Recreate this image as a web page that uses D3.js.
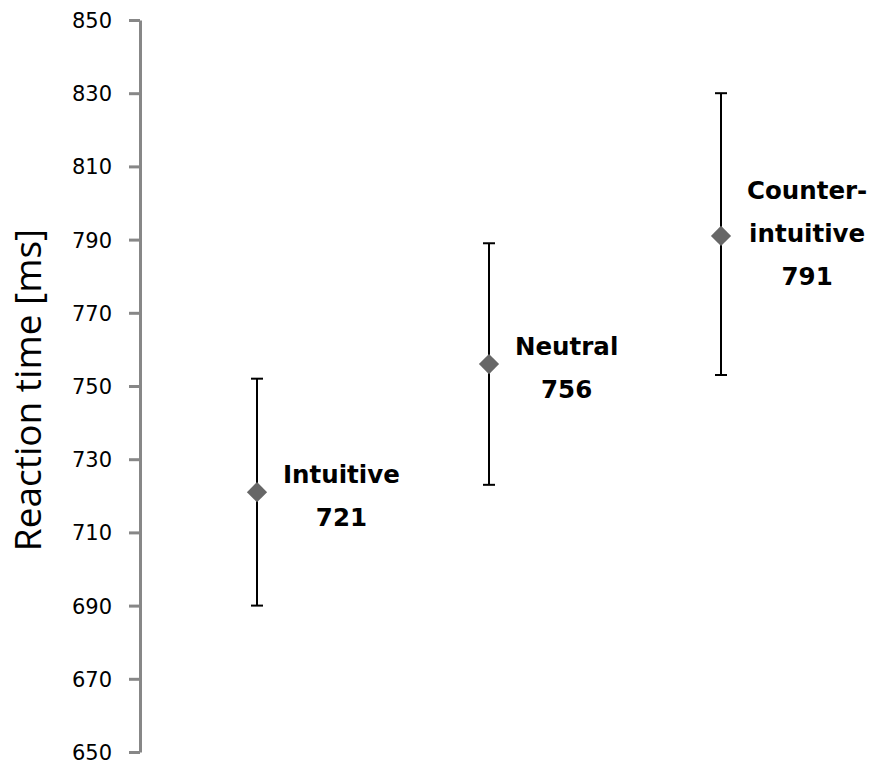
<!DOCTYPE html>
<html>
<head>
<meta charset="utf-8">
<script src="https://cdn.jsdelivr.net/npm/d3@7"></script>
<style>
  html, body { margin: 0; padding: 0; background: #fff; }
  svg { display: block; }
</style>
</head>
<body>
<svg id="chart" width="880" height="765"></svg>
<script>
// Mean reaction times per condition, with error bar bounds
const categories = ["Intuitive", "Neutral", "Counter-intuitive"];
const labelLines = [["Intuitive"], ["Neutral"], ["Counter-", "intuitive"]];
const means = [721, 756, 791];
const lowers = [690, 723, 753];
const uppers = [752, 789, 830];
const yTicks = [650, 670, 690, 710, 730, 750, 770, 790, 810, 830, 850];
const yTitle = "Reaction time [ms]";

const svg = d3.select("#chart");

const axisX = 140;
const x = d3.scalePoint().domain(categories).range([axisX + 1, 837]).padding(0.5);
const y = d3.scaleLinear().domain([650, 850]).range([752, 20]);

// Y axis
const axis = svg.append("g")
  .attr("transform", `translate(${axisX},0)`)
  .call(d3.axisLeft(y).tickValues(yTicks).tickSize(11).tickSizeOuter(0).tickPadding(17));
axis.select(".domain").attr("stroke", "#878787").attr("stroke-width", 3);
axis.selectAll(".tick line").attr("stroke", "#878787").attr("stroke-width", 3);
axis.selectAll(".tick text")
  .attr("fill", "#000")
  .attr("dy", "0.36em")
  .style("font-family", "'DejaVu Sans', Verdana, sans-serif")
  .style("font-size", "21px");

// Axis title
svg.append("text")
  .attr("transform", `translate(41,${(y(650) + y(850)) / 2 + 4}) rotate(-90)`)
  .attr("text-anchor", "middle")
  .style("font-family", "'Open Sans', sans-serif")
  .style("font-size", "37px")
  .attr("fill", "#000")
  .text(yTitle);

const data = categories.map((c, i) => ({
  cat: c, lines: labelLines[i], mean: means[i], lo: lowers[i], hi: uppers[i]
}));

const g = svg.append("g");
const capW = 6;

// Error bars
g.selectAll("line.bar").data(data).join("line")
  .attr("class", "bar")
  .attr("x1", d => x(d.cat)).attr("x2", d => x(d.cat))
  .attr("y1", d => y(d.lo)).attr("y2", d => y(d.hi))
  .attr("stroke", "#000").attr("stroke-width", 2);
g.selectAll("line.capHi").data(data).join("line")
  .attr("class", "capHi")
  .attr("x1", d => x(d.cat) - capW).attr("x2", d => x(d.cat) + capW)
  .attr("y1", d => y(d.hi)).attr("y2", d => y(d.hi))
  .attr("stroke", "#000").attr("stroke-width", 2);
g.selectAll("line.capLo").data(data).join("line")
  .attr("class", "capLo")
  .attr("x1", d => x(d.cat) - capW).attr("x2", d => x(d.cat) + capW)
  .attr("y1", d => y(d.lo)).attr("y2", d => y(d.lo))
  .attr("stroke", "#000").attr("stroke-width", 2);

// Mean markers (diamonds)
const diamond = d3.symbol().type(d3.symbolDiamond2).size(260);
g.selectAll("path.pt").data(data).join("path")
  .attr("class", "pt")
  .attr("transform", d => `translate(${x(d.cat)},${y(d.mean)})`)
  .attr("d", diamond)
  .attr("fill", "#676767");

// Labels: condition name and mean value, as a centred block right of the marker
const lineH = 43;
data.forEach(d => {
  const all = d.lines.concat([String(d.mean)]);
  const t = g.append("text")
    .attr("text-anchor", "middle")
    .style("font-family", "'DejaVu Sans', sans-serif")
    .style("font-weight", "bold")
    .style("font-size", "24.5px")
    .attr("fill", "#000");
  const startY = y(d.mean) - (all.length === 2 ? 9 : 37);
  const spans = all.map((s, k) =>
    t.append("tspan").attr("y", startY + k * lineH).text(s));
  const maxW = d3.max(spans, sp => sp.node().getComputedTextLength());
  const cx = x(d.cat) + 26 + maxW / 2;
  spans.forEach(sp => sp.attr("x", cx));
});
</script>
</body>
</html>
